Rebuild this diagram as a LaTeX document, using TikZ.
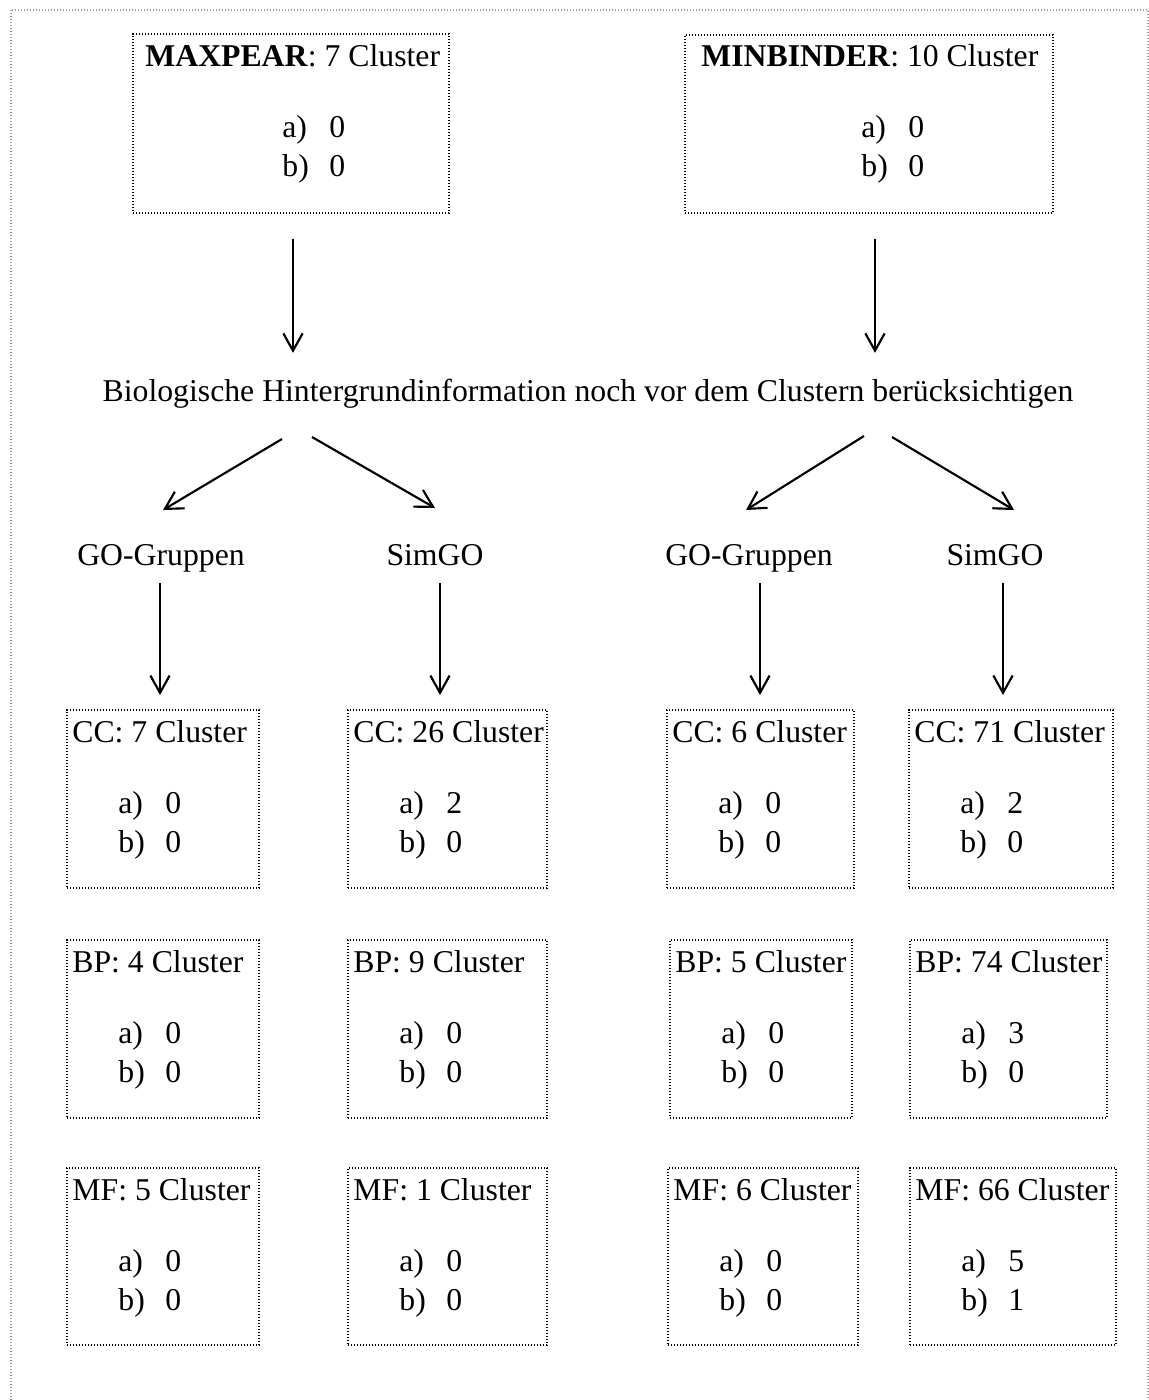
\documentclass[tikz,border=0pt]{standalone}
\usepackage{fontspec}
\setmainfont{Liberation Serif}
\usetikzlibrary{arrows.meta,calc,fit}
\newcommand{\clbox}[8]{%
  \node[dbox, fit={(#2,#3) (#4,#5)}] (#1) {};
  \node[txt] (#1t) at ($(#1.north west)+(6,33)$) {#6};
  \node[txt] (#1a) at ($(#1.north west)+(52,104)$) {\makebox[35.25pt][l]{a)}#7};
  \node[txt] (#1b) at ($(#1.north west)+(52,143)$) {\makebox[35.25pt][l]{b)}#8};
}
\begin{document}
\begin{tikzpicture}[x=0.75pt,y=-0.75pt,
  font=\fontsize{23.8}{28}\selectfont,
  dbox/.style={draw=black, line width=1.3pt, dash pattern=on 0.9pt off 1.35pt, inner sep=0pt},
  txt/.style={anchor=base west, inner sep=0pt},
  lbl/.style={anchor=base, inner sep=0pt},
  arr/.style={-{Straight Barb[length=13pt,width=14.5pt,line width=1.6pt]}, line width=1.6pt}]
\useasboundingbox (0,0) rectangle (1149,1400);
\begin{scope}
  \clip (0,0) rectangle (1149,1400);
  \draw[gray!75, line width=1pt, dash pattern=on 0.8pt off 1.45pt] (11,10) rectangle (1148,1430);
\end{scope}

% top boxes
\node[dbox, fit={(133,34) (449,213)}] (mp) {};
\node[txt] (mpt) at ($(mp.north west)+(13,33)$) {\textbf{MAXPEAR}: 7 Cluster};
\node[txt] (mpa) at ($(mp.north west)+(150,104)$) {\makebox[35.25pt][l]{a)}0};
\node[txt] (mpb) at ($(mp.north west)+(150,143)$) {\makebox[35.25pt][l]{b)}0};

\node[dbox, fit={(685,35) (1053,213)}] (mb) {};
\node[txt] (mbt) at ($(mb.north west)+(17,32)$) {\textbf{MINBINDER}: 10 Cluster};
\node[txt] (mba) at ($(mb.north west)+(177,103)$) {\makebox[35.25pt][l]{a)}0};
\node[txt] (mbb) at ($(mb.north west)+(177,142)$) {\makebox[35.25pt][l]{b)}0};

% middle text
\node[lbl] (bio) at (588,401) {Biologische Hintergrundinformation noch vor dem Clustern berücksichtigen};

% labels
\node[lbl] (gl1) at (161,565) {GO-Gruppen};
\node[lbl] (sl1) at (435,565) {SimGO};
\node[lbl] (gl2) at (749,565) {GO-Gruppen};
\node[lbl] (sl2) at (995,565) {SimGO};

% cluster boxes
\clbox{cc1}{67}{710}{259}{888}{CC: 7 Cluster}{0}{0}
\clbox{cc2}{348}{710}{547}{888}{CC: 26 Cluster}{2}{0}
\clbox{cc3}{667}{710}{854}{888}{CC: 6 Cluster}{0}{0}
\clbox{cc4}{909}{710}{1113}{888}{CC: 71 Cluster}{2}{0}
\clbox{bp1}{67}{940}{259}{1118}{BP: 4 Cluster}{0}{0}
\clbox{bp2}{348}{940}{547}{1118}{BP: 9 Cluster}{0}{0}
\clbox{bp3}{670}{940}{852}{1118}{BP: 5 Cluster}{0}{0}
\clbox{bp4}{910}{940}{1107}{1118}{BP: 74 Cluster}{3}{0}
\clbox{mf1}{67}{1168}{259}{1345}{MF: 5 Cluster}{0}{0}
\clbox{mf2}{348}{1168}{547}{1345}{MF: 1 Cluster}{0}{0}
\clbox{mf3}{668}{1168}{858}{1345}{MF: 6 Cluster}{0}{0}
\clbox{mf4}{910}{1168}{1116}{1345}{MF: 66 Cluster}{5}{1}

% arrows
\draw[arr] ($(mp.south)+(2,25)$) -- ($(mp.south)+(2,139)$);
\draw[arr] ($(mb.south)+(6,25)$) -- ($(mb.south)+(6,139)$);

\draw[arr] ($(bio.base)+(-306,38)$) -- ($(gl1.base)+(2,-55)$);
\draw[arr] ($(bio.base)+(-276,36)$) -- ($(sl1.base)+(0,-57)$);
\draw[arr] ($(bio.base)+(276,35)$) -- ($(gl2.base)+(-3,-55)$);
\draw[arr] ($(bio.base)+(304,36)$) -- ($(sl2.base)+(19,-55)$);

\draw[arr] ($(gl1.base)+(-1,18)$) -- ($(gl1.base)+(-1,130)$);
\draw[arr] ($(sl1.base)+(5,18)$) -- ($(sl1.base)+(5,130)$);
\draw[arr] ($(gl2.base)+(11,18)$) -- ($(gl2.base)+(11,130)$);
\draw[arr] ($(sl2.base)+(8,18)$) -- ($(sl2.base)+(8,130)$);
\end{tikzpicture}
\end{document}
